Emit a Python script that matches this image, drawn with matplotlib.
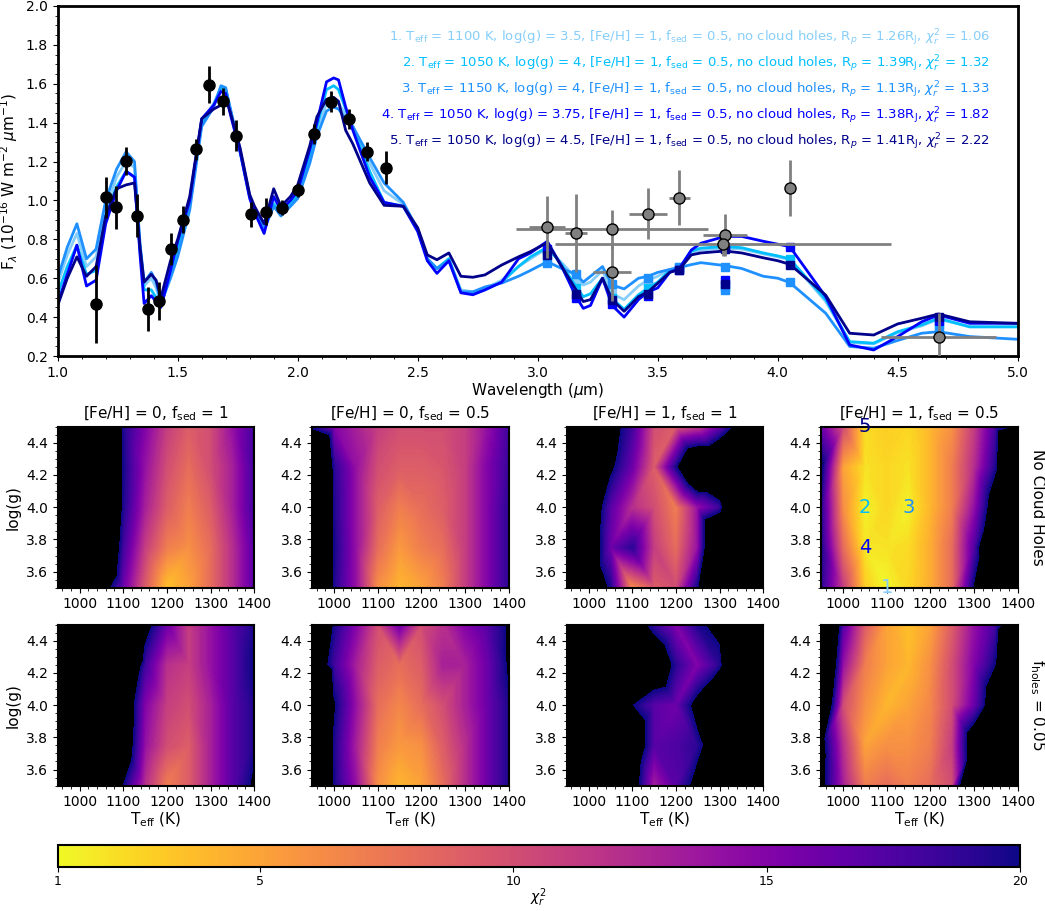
import matplotlib.pyplot as plt
import numpy as np
from matplotlib.colors import Normalize
from matplotlib.cm import ScalarMappable
from matplotlib.ticker import MultipleLocator

# ---------------- spectrum data ----------------
# black points: spectrum with y errors
spec_wl = [1.16, 1.20, 1.242, 1.285, 1.329, 1.375, 1.422, 1.472, 1.52, 1.575, 1.629,
           1.687, 1.744, 1.805, 1.867, 1.933, 2.0, 2.069, 2.139, 2.212, 2.29, 2.369]
spec_f = [0.466, 1.016, 0.965, 1.203, 0.922, 0.442, 0.484, 0.750, 0.901, 1.263, 1.596,
          1.510, 1.332, 0.929, 0.942, 0.963, 1.054, 1.342, 1.508, 1.418, 1.251, 1.167]
spec_err = [0.20, 0.107, 0.11, 0.07, 0.11, 0.115, 0.097, 0.08, 0.07, 0.055, 0.095,
            0.07, 0.08, 0.065, 0.07, 0.04, 0.035, 0.05, 0.055, 0.05, 0.05, 0.085]

# grey points: photometry with x and y errors
phot_wl = [3.04, 3.16, 3.31, 3.31, 3.46, 3.59, 3.78, 3.774, 4.05, 4.67]
phot_f = [0.864, 0.831, 0.852, 0.632, 0.932, 1.014, 0.822, 0.776, 1.063, 0.299]
phot_ferr = [0.16, 0.20, 0.10, 0.15, 0.13, 0.14, 0.11, 0.06, 0.145, 0.12]
phot_werr = [0.075, 0.045, 0.40, 0.08, 0.08, 0.045, 0.09, 0.70, 0.0, 0.24]

# model spectra
model_wl = [1.00, 1.04, 1.08, 1.12, 1.16, 1.20, 1.245, 1.285, 1.32, 1.343, 1.36, 1.39,
            1.41, 1.43, 1.47, 1.50, 1.55, 1.60, 1.65, 1.68, 1.70, 1.72, 1.76, 1.80,
            1.82, 1.86, 1.90, 1.93, 1.97, 2.00, 2.05, 2.08, 2.12, 2.15, 2.17, 2.20,
            2.23, 2.30, 2.36, 2.44, 2.50, 2.54, 2.58, 2.63, 2.68, 2.73, 2.78, 2.85,
            2.92, 2.97, 3.04, 3.10, 3.16, 3.19, 3.22, 3.27, 3.31, 3.36, 3.42, 3.46,
            3.50, 3.55, 3.59, 3.64, 3.68, 3.78, 3.85, 3.94, 4.00, 4.05, 4.20, 4.30,
            4.40, 4.50, 4.60, 4.67, 4.80, 5.00]
model1 = [0.57, 0.72, 0.83, 0.66, 0.71, 0.95, 1.12, 1.20, 1.17, 0.76, 0.56, 0.60,
          0.55, 0.46, 0.62, 0.75, 0.98, 1.40, 1.50, 1.58, 1.56, 1.45, 1.25, 1.02,
          0.95, 0.86, 0.99, 0.93, 0.98, 1.03, 1.22, 1.36, 1.50, 1.51, 1.50, 1.44,
          1.38, 1.19, 1.05, 0.98, 0.85, 0.70, 0.65, 0.70, 0.54, 0.53, 0.545, 0.59,
          0.66, 0.70, 0.755, 0.68, 0.60, 0.565, 0.58, 0.64, 0.52, 0.49, 0.56, 0.59,
          0.61, 0.645, 0.655, 0.73, 0.745, 0.755, 0.75, 0.725, 0.71, 0.695, 0.48, 0.27,
          0.262, 0.32, 0.355, 0.39, 0.35, 0.35]
model2 = [0.52, 0.66, 0.77, 0.62, 0.64, 0.92, 1.07, 1.15, 1.12, 0.74, 0.54, 0.54,
          0.50, 0.46, 0.62, 0.75, 0.98, 1.40, 1.49, 1.58, 1.57, 1.46, 1.25, 1.02,
          0.95, 0.85, 0.98, 0.93, 0.98, 1.03, 1.23, 1.38, 1.57, 1.59, 1.57, 1.47,
          1.37, 1.15, 0.99, 0.97, 0.85, 0.70, 0.65, 0.70, 0.53, 0.52, 0.54, 0.58,
          0.66, 0.71, 0.76, 0.67, 0.556, 0.505, 0.52, 0.60, 0.495, 0.44, 0.515, 0.55,
          0.58, 0.64, 0.65, 0.74, 0.755, 0.763, 0.757, 0.73, 0.715, 0.70, 0.49, 0.274,
          0.266, 0.325, 0.36, 0.394, 0.35, 0.35]
model3 = [0.60, 0.76, 0.88, 0.70, 0.75, 1.00, 1.16, 1.25, 1.20, 0.78, 0.58, 0.63,
          0.58, 0.47, 0.60, 0.71, 0.95, 1.38, 1.48, 1.59, 1.58, 1.47, 1.26, 1.02,
          0.95, 0.85, 0.97, 0.92, 0.97, 1.01, 1.19, 1.33, 1.46, 1.48, 1.47, 1.42,
          1.38, 1.22, 1.09, 0.99, 0.85, 0.70, 0.65, 0.69, 0.53, 0.53, 0.555, 0.575,
          0.61, 0.64, 0.685, 0.65, 0.62, 0.58, 0.61, 0.66, 0.565, 0.545, 0.60, 0.61,
          0.63, 0.645, 0.655, 0.67, 0.68, 0.665, 0.65, 0.61, 0.60, 0.578, 0.42, 0.249,
          0.24, 0.28, 0.317, 0.325, 0.30, 0.286]
model4 = [0.47, 0.62, 0.77, 0.56, 0.59, 0.88, 1.05, 1.15, 1.12, 0.72, 0.47, 0.51,
          0.48, 0.45, 0.64, 0.79, 1.00, 1.42, 1.49, 1.56, 1.55, 1.44, 1.25, 1.01,
          0.94, 0.83, 1.02, 0.95, 1.00, 1.05, 1.26, 1.40, 1.61, 1.63, 1.62, 1.48,
          1.36, 1.12, 0.99, 0.97, 0.84, 0.69, 0.625, 0.69, 0.525, 0.515, 0.54, 0.58,
          0.70, 0.73, 0.79, 0.66, 0.505, 0.445, 0.46, 0.60, 0.46, 0.40, 0.49, 0.53,
          0.55, 0.63, 0.65, 0.745, 0.78, 0.815, 0.815, 0.79, 0.775, 0.763, 0.505, 0.257,
          0.231, 0.30, 0.376, 0.411, 0.368, 0.368]
model5 = [0.46, 0.60, 0.71, 0.61, 0.66, 0.92, 1.06, 1.08, 1.09, 0.76, 0.58, 0.62,
          0.59, 0.50, 0.69, 0.80, 1.02, 1.42, 1.47, 1.49, 1.53, 1.45, 1.27, 1.03,
          0.97, 0.88, 1.06, 0.97, 1.02, 1.08, 1.28, 1.43, 1.52, 1.53, 1.51, 1.36,
          1.29, 1.09, 0.975, 0.97, 0.86, 0.72, 0.695, 0.73, 0.61, 0.605, 0.617, 0.668,
          0.71, 0.737, 0.783, 0.66, 0.54, 0.48, 0.49, 0.60, 0.49, 0.43, 0.505, 0.53,
          0.574, 0.63, 0.645, 0.72, 0.73, 0.74, 0.73, 0.705, 0.69, 0.672, 0.513, 0.317,
          0.308, 0.365, 0.394, 0.416, 0.376, 0.368]

# model photometry (squares)
mphot_wl = [3.04, 3.16, 3.31, 3.46, 3.59, 3.78, 3.78, 4.05, 4.67]
mphot1 = [0.74, 0.59, 0.53, 0.58, 0.66, 0.75, 0.55, 0.69, 0.36]
mphot2 = [0.72, 0.55, 0.50, 0.55, 0.65, 0.76, 0.56, 0.70, 0.37]
mphot3 = [0.68, 0.62, 0.57, 0.60, 0.66, 0.66, 0.54, 0.58, 0.33]
mphot4 = [0.75, 0.50, 0.47, 0.51, 0.64, 0.76, 0.59, 0.76, 0.38]
mphot5 = [0.72, 0.52, 0.49, 0.52, 0.64, 0.75, 0.57, 0.67, 0.40]

model_colors = ["lightskyblue", "deepskyblue", "dodgerblue", "blue", "darkblue"]
best_teff = [1100, 1050, 1150, 1050, 1050]
best_logg = ["3.5", "4", "4", "3.75", "4.5"]
best_rp = ["1.26", "1.39", "1.13", "1.38", "1.41"]
best_chi = ["1.06", "1.32", "1.33", "1.82", "2.22"]

# ---------------- chi2 grids ----------------
teff_grid = [950, 1000, 1050, 1100, 1150, 1200, 1250, 1300, 1350, 1400]
logg_grid = [3.5, 3.75, 4.0, 4.25, 4.5]

chi_feh0_fsed1 = [
    [50, 45, 23, 16, 9, 3.5, 5, 8, 12, 17],
    [50, 45, 30, 18, 11, 7, 6, 8, 12, 17],
    [50, 45, 35, 19.5, 13, 9, 7, 9, 13, 18],
    [50, 45, 35, 19.8, 14, 10, 8, 10, 13, 18],
    [50, 45, 35, 19.5, 15, 11, 9, 10, 14, 18],
]
chi_feh0_fsed05 = [
    [40, 19.5, 14, 6, 4, 5, 7, 11, 15, 19],
    [40, 19.9, 14, 8, 5.5, 7, 8, 11, 15, 19],
    [40, 19.5, 14, 9, 7, 8, 9, 11, 15, 19],
    [40, 19, 14, 10, 9, 9, 9.5, 11, 15, 18.5],
    [19, 15, 13, 11, 10, 10, 10, 11, 14, 18],
]
chi_feh1_fsed1 = [
    [40, 25, 19.5, 6, 9, 10, 19.9, 30, 40, 40],
    [40, 25, 16, 19, 11, 8, 14, 34, 40, 40],
    [40, 25, 17, 12, 10, 7, 14, 18, 38, 40],
    [40, 30, 21, 16, 9, 19.5, 30, 30, 40, 40],
    [40, 40, 22, 18, 10, 9, 11, 16, 22.7, 40],
]
chi_feh1_fsed05 = [
    [19, 11, 3, 1.06, 2.5, 4.5, 8, 20.5, 30, 40],
    [19.5, 8, 1.82, 2, 2.3, 4.5, 8, 17, 32, 40],
    [19, 6, 1.32, 2.5, 1.33, 4, 7, 14, 24, 40],
    [21, 5, 2, 2.5, 2, 4, 7, 12, 19.5, 40],
    [16, 10, 2.22, 3, 2.5, 4, 6, 11, 18, 20.9],
]
chi_feh0_fsed1_holes = [
    [50, 50, 40, 20, 12, 7, 9, 13, 17, 20.75],
    [50, 50, 40, 25, 14, 10, 9, 13, 17, 19.5],
    [50, 50, 40, 25, 15, 11, 10, 13, 17, 19.5],
    [50, 50, 40, 30, 18, 12, 11, 14, 17, 20.3],
    [50, 50, 40, 40, 22, 16, 11, 14, 17, 19.5],
]
chi_feh0_fsed05_holes = [
    [40, 19.8, 14, 6, 4, 5, 8, 12, 16, 19.5],
    [40, 19.5, 13, 7, 5.5, 6, 9, 12, 16, 19.5],
    [40, 20.5, 14, 8, 6.5, 8, 10, 13, 16, 19.5],
    [25, 18, 13, 9, 8, 9, 13, 13, 16, 20.5],
    [40, 19.8, 15, 10, 16, 10, 12, 15, 17, 20.5],
]
chi_feh1_fsed1_holes = [
    [40, 40, 30, 23.3, 13, 17, 21.8, 40, 40, 40],
    [40, 40, 40, 24.9, 17, 17.5, 19, 23.5, 40, 40],
    [40, 40, 40, 20.2, 17, 16, 22, 30, 40, 40],
    [40, 40, 40, 40, 25, 19, 15, 19, 30, 40],
    [40, 40, 40, 23.5, 18.5, 15, 19.5, 21, 40, 40],
]
chi_feh1_fsed05_holes = [
    [21.75, 13, 7, 8, 7, 8, 10, 40, 40, 40],
    [22, 12, 5, 6, 6, 7, 11, 25, 40, 40],
    [30, 10, 6, 4, 5, 6.5, 10, 16, 24.3, 40],
    [34, 14, 7, 5, 4, 6, 10, 15, 20.2, 40],
    [35.6, 17, 9, 5, 3.5, 5, 9, 14, 18, 24.7],
]

grid_rows = [
    [chi_feh0_fsed1, chi_feh0_fsed05, chi_feh1_fsed1, chi_feh1_fsed05],
    [chi_feh0_fsed1_holes, chi_feh0_fsed05_holes, chi_feh1_fsed1_holes, chi_feh1_fsed05_holes],
]
col_titles = [r"[Fe/H] = 0, f$_{\rm sed}$ = 1", r"[Fe/H] = 0, f$_{\rm sed}$ = 0.5",
              r"[Fe/H] = 1, f$_{\rm sed}$ = 1", r"[Fe/H] = 1, f$_{\rm sed}$ = 0.5"]
row_labels = ["No Cloud Holes", r"f$_{\rm holes}$ = 0.05"]

W, H = 1045, 911
fig = plt.figure(figsize=(W / 100, H / 100), dpi=100)


def frac(x0, y_top, w, h):
    return [x0 / W, 1 - (y_top + h) / H, w / W, h / H]


# ---------------- top panel ----------------
ax = fig.add_axes(frac(57.7, 6, 960, 350))
models = [model1, model2, model3, model4, model5]
mphots = [mphot1, mphot2, mphot3, mphot4, mphot5]
for m, mp, c in zip(models, mphots, model_colors):
    ax.plot(model_wl, m, color=c, lw=2)
    ax.plot(mphot_wl, mp, "s", color=c, ms=6)

ax.errorbar(spec_wl, spec_f, yerr=spec_err, fmt="o", color="black", ms=8,
            elinewidth=2, capsize=0, zorder=5)
ax.errorbar(phot_wl, phot_f, yerr=phot_ferr, xerr=phot_werr, fmt="o", color="grey",
            mfc="grey", mec="black", ms=8, elinewidth=2, capsize=0, zorder=6)

for i, c in enumerate(model_colors):
    txt = (rf"{i + 1}. T$_{{\rm eff}}$ = {best_teff[i]} K, log(g) = {best_logg[i]}, "
           rf"[Fe/H] = 1, f$_{{\rm sed}}$ = 0.5, no cloud holes, "
           rf"R$_p$ = {best_rp[i]}R$_{{\rm J}}$, $\chi^2_r$ = {best_chi[i]}")
    ax.text(0.971, 0.909 - 0.074 * i, txt, color=c, fontsize=9.5, ha="right",
            va="center", transform=ax.transAxes)

ax.set_xlim(1.0, 5.0)
ax.set_ylim(0.2, 2.0)
ax.xaxis.set_major_locator(MultipleLocator(0.5))
ax.xaxis.set_minor_locator(MultipleLocator(0.1))
ax.yaxis.set_major_locator(MultipleLocator(0.2))
ax.yaxis.set_minor_locator(MultipleLocator(0.05))
ax.tick_params(labelsize=10)
ax.set_xlabel(r"Wavelength ($\mu$m)", fontsize=11, labelpad=1)
ax.set_ylabel(r"F$_\lambda$ (10$^{-16}$ W m$^{-2}$ $\mu$m$^{-1}$)", fontsize=11)
for s in ax.spines.values():
    s.set_linewidth(2)

# ---------------- chi2 grid panels ----------------
levels = np.linspace(1, 20, 120)
TT, GG = np.meshgrid(teff_grid, logg_grid)
col_x = [57.7, 312.2, 566.7, 821.2]
row_y = [426.7, 624.6]
for r, row in enumerate(grid_rows):
    for c, chi in enumerate(row):
        a = fig.add_axes(frac(col_x[c], row_y[r], 196.5, 161))
        a.set_facecolor("black")
        a.tricontourf(TT.ravel(), GG.ravel(), np.array(chi, float).ravel(),
                      levels=levels, cmap="plasma_r", vmin=1, vmax=20)
        a.set_xlim(950, 1400)
        a.set_ylim(3.5, 4.5)
        a.xaxis.set_major_locator(MultipleLocator(100))
        a.xaxis.set_minor_locator(MultipleLocator(20))
        a.yaxis.set_major_locator(MultipleLocator(0.2))
        a.yaxis.set_minor_locator(MultipleLocator(0.05))
        a.tick_params(labelsize=10)
        for s in a.spines.values():
            s.set_linewidth(1.5)
        if r == 0:
            a.set_title(col_titles[c], fontsize=11)
        else:
            a.set_xlabel(r"T$_{\rm eff}$ (K)", fontsize=11, labelpad=1)
        if c == 0:
            a.set_ylabel("log(g)", fontsize=11)
        if c == 3:
            a.text(1.1, 0.5, row_labels[r], rotation=270, fontsize=11,
                   ha="center", va="center", transform=a.transAxes)
        if r == 0 and c == 3:
            for i, col in enumerate(model_colors):
                a.text(best_teff[i], float(best_logg[i]), str(i + 1), color=col,
                       fontsize=14, ha="center", va="center", clip_on=False)

# ---------------- colorbar ----------------
cax = fig.add_axes(frac(57.7, 845, 962, 22))
sm = ScalarMappable(norm=Normalize(1, 20), cmap="plasma_r")
cb = fig.colorbar(sm, cax=cax, orientation="horizontal", ticks=[1, 5, 10, 15, 20])
cb.set_label(r"$\chi^2_r$", fontsize=10, labelpad=-1)
cb.ax.tick_params(labelsize=9, pad=2)
cb.outline.set_linewidth(1.5)

fig.savefig("out.png", dpi=100)
